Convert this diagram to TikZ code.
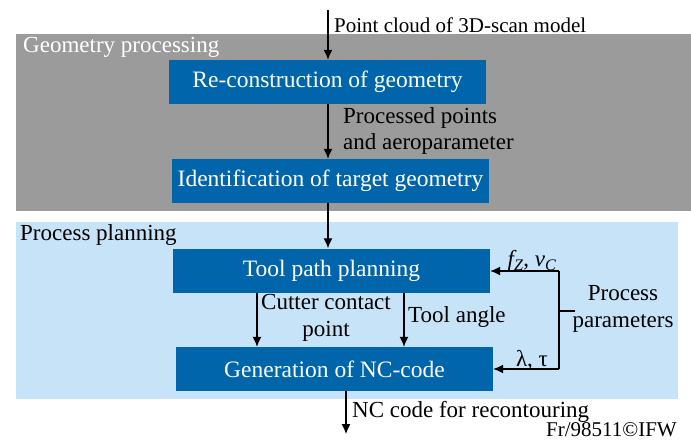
\documentclass[tikz,border=0pt]{standalone}
\usepackage{fontspec}
\setmainfont{Liberation Serif}
\usetikzlibrary{arrows.meta,positioning}
\definecolor{geogray}{RGB}{155,155,155}
\definecolor{planblue}{RGB}{199,227,248}
\definecolor{boxblue}{RGB}{0,101,170}
\tikzset{
  stepbox/.style={fill=boxblue,text=white,minimum width=317pt,minimum height=44pt,inner sep=0pt,font=\fontsize{23.5}{26}\selectfont},
  lbl/.style={inner sep=1pt,font=\fontsize{23}{26.5}\selectfont},
  flow/.style={line width=1.2pt,-{Latex[length=10pt,width=9pt]}}
}

\begin{document}
\begin{tikzpicture}[x=1pt,y=-1pt]
  \useasboundingbox (0,0) rectangle (691,441);
  % areas
  \fill[geogray] (16,34) rectangle (691,211);
  \fill[planblue] (16,222) rectangle (678,399);
  \node[lbl,anchor=west,text=white] (geolbl) at (22,47) {Geometry processing};
  \node[lbl,anchor=west] (planlbl) at (19,235) {Process planning};
  % blocks
  \node[stepbox] (recon) at (327.5,82) {Re-construction of geometry};
  \node[stepbox] (ident) at (330.5,181) {Identification of target geometry};
  \node[stepbox] (tpp) at (331.5,270.5) {Tool path planning};
  \node[stepbox] (nc) at (334.5,369) {Generation of NC-code};
  % flow
  \coordinate (cloud) at (328,10);
  \draw[flow] (cloud) -- (recon.north -| cloud);
  \node[lbl,anchor=west,font=\fontsize{21}{24}\selectfont] (cloudlbl) at (333,25) {Point cloud of 3D-scan model};
  \draw[flow] (recon.south -| cloud) -- (ident.north -| cloud);
  \node[lbl,anchor=west,align=left] (pplbl) at (342,131) {Processed points\\and aeroparameter};
  \draw[flow] (ident.south -| cloud) -- (tpp.north -| cloud);
  \draw[flow] (tpp.south -| 257,0) -- (nc.north -| 257,0);
  \node[lbl,align=center] (cclbl) at (326,318) {Cutter contact\\point};
  \draw[flow] (tpp.south -| 404,0) -- (nc.north -| 404,0);
  \node[lbl,anchor=west] (talbl) at (407,317) {Tool angle};
  % process parameters
  \coordinate (fbtop) at (559,271);
  \coordinate (fbbot) at (559,369);
  \coordinate (fbmid) at (559,311);
  \draw[line width=1.2pt] (fbtop) -- (fbbot);
  \draw[flow] (fbtop) -- (tpp.east |- fbtop);
  \draw[flow] (fbbot) -- (nc.east |- fbbot);
  \node[lbl,anchor=south] (fzvc) at (532,273) {\textit{f\textsubscript{Z}}, \textit{v\textsubscript{C}}};
  \node[lbl,anchor=south] (lamtau) at (532,371) {λ, τ};
  \node[lbl,align=center] (pplab) at (623,309) {Process\\parameters};
  \draw[line width=1.2pt] (fbmid) -- ++(16,0);
  % output
  \coordinate (ncout) at (346,434);
  \draw[flow] (nc.south -| ncout) -- (ncout);
  \node[lbl,anchor=west] (nclbl) at (351,412) {NC code for recontouring};
  \node[lbl,anchor=base east,inner sep=0pt,font=\fontsize{21}{23}\selectfont] (ifw) at (677,436) {Fr/98511©IFW};
\end{tikzpicture}
\end{document}
